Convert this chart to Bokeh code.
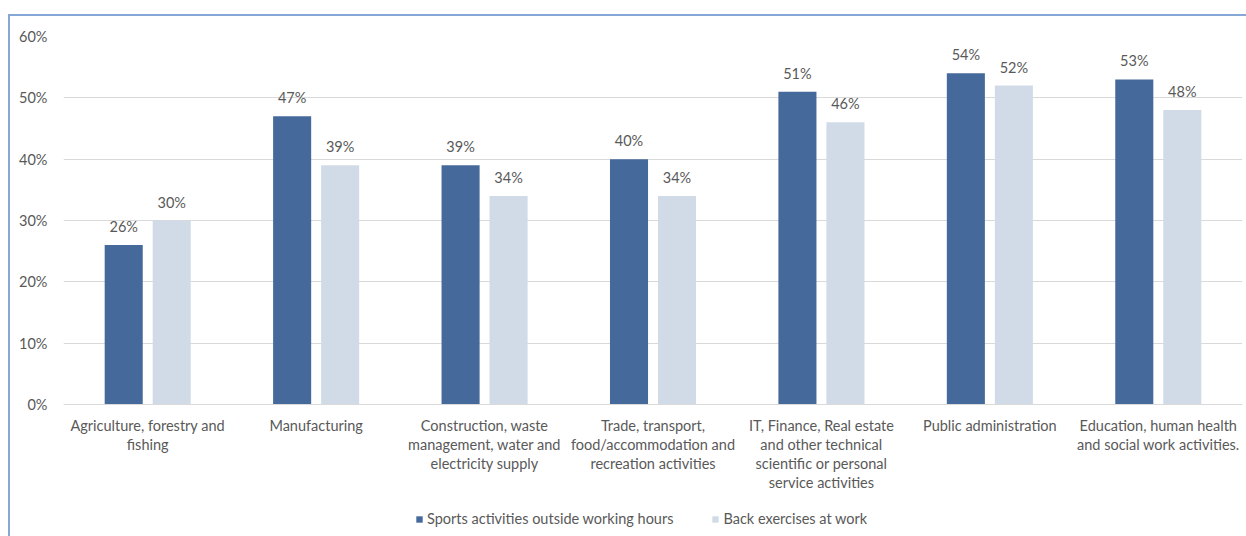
from bokeh.plotting import figure
from bokeh.models import (ColumnDataSource, FixedTicker, PrintfTickFormatter,
                          Legend, LegendItem, LabelSet)
from bokeh.core.properties import value
from bokeh.transform import dodge
from bokeh.embed import file_html
from bokeh.resources import INLINE

categories = [
    "Agriculture, forestry and\nfishing",
    "Manufacturing",
    "Construction, waste\nmanagement, water and\nelectricity supply",
    "Trade, transport,\nfood/accommodation and\nrecreation activities",
    "IT, Finance, Real estate\nand other technical\nscientific or personal\nservice activities",
    "Public administration",
    "Education, human health\nand social work activities.",
]
sports = [26, 47, 39, 40, 51, 54, 53]
back = [30, 39, 34, 34, 46, 52, 48]
series_names = ["Sports activities outside working hours", "Back exercises at work"]
y_ticks = [0, 10, 20, 30, 40, 50, 60]

DARK = "#46699B"
LIGHT = "#D0DBE7"
TXT = "#595959"
BORDER = "#86A8D6"
FONT = "Lato"
FS = "14.5px"

idx = list(range(len(categories)))
src = ColumnDataSource(dict(
    x=idx,
    sports=sports,
    back=back,
    sports_lbl=[f"{v}%" for v in sports],
    back_lbl=[f"{v}%" for v in back],
))

# frame runs to the bottom of the canvas; the category axis sits at y=0
p = figure(width=1246, height=536, output_backend="svg", toolbar_location=None,
           x_range=(-0.5, len(categories) - 0.5), y_range=(-21.52, 60),
           min_border_left=63, min_border_right=4, min_border_top=36,
           min_border_bottom=0)
p.styles = {"box-shadow": f"inset 0 14px 0 0 white, inset 8px 0 0 0 white, "
                          f"inset 0 16px 0 0 {BORDER}, inset 10px 0 0 0 {BORDER}"}
p.outline_line_color = None
p.background_fill_color = "white"
p.border_fill_color = None

r1 = p.vbar(x=dodge("x", -0.1425), top="sports", width=0.226, source=src,
            fill_color=DARK, line_color=None)
r2 = p.vbar(x=dodge("x", 0.1425), top="back", width=0.226, source=src,
            fill_color=LIGHT, line_color=None)

for col, lbl, off in [("sports", "sports_lbl", -0.1425), ("back", "back_lbl", 0.1425)]:
    ls = LabelSet(x=dodge("x", off), y=col, text=lbl, source=src,
                  text_align="center", text_baseline="middle", y_offset=18.5,
                  text_font=value(FONT), text_font_size=FS, text_color=TXT)
    p.add_layout(ls)

# axes
p.xaxis.fixed_location = 0
p.xaxis.ticker = FixedTicker(ticks=idx)
p.xaxis.major_label_overrides = {i: c for i, c in enumerate(categories)}
p.xaxis.major_tick_line_color = None
p.xaxis.minor_tick_line_color = None
p.xaxis.axis_line_color = "#D9D9D9"
p.xaxis.major_label_text_font = FONT
p.xaxis.major_label_text_font_size = FS
p.xaxis.major_label_text_color = TXT
p.xaxis.major_label_standoff = 6
p.xaxis.major_label_text_line_height = 1.12

p.yaxis.ticker = FixedTicker(ticks=y_ticks)
p.yaxis.formatter = PrintfTickFormatter(format="%d%%")
p.yaxis.major_tick_line_color = None
p.yaxis.minor_tick_line_color = None
p.yaxis.axis_line_color = None
p.yaxis.major_label_text_font = FONT
p.yaxis.major_label_text_font_size = FS
p.yaxis.major_label_text_color = TXT
p.yaxis.major_label_standoff = 10

p.xgrid.grid_line_color = None
p.ygrid.grid_line_color = "#D9D9D9"
p.ygrid.ticker = FixedTicker(ticks=y_ticks)

legend = Legend(items=[LegendItem(label=series_names[0], renderers=[r1]),
                       LegendItem(label=series_names[1], renderers=[r2])],
                orientation="horizontal", location=(352, 9),
                glyph_width=8, glyph_height=8, label_standoff=4, spacing=38,
                padding=0, margin=0, label_height=14,
                label_text_font=FONT, label_text_font_size=FS,
                label_text_color=TXT, border_line_color=None,
                background_fill_alpha=0)
p.add_layout(legend, "center")

open("out.html", "w").write(file_html(p, INLINE))
